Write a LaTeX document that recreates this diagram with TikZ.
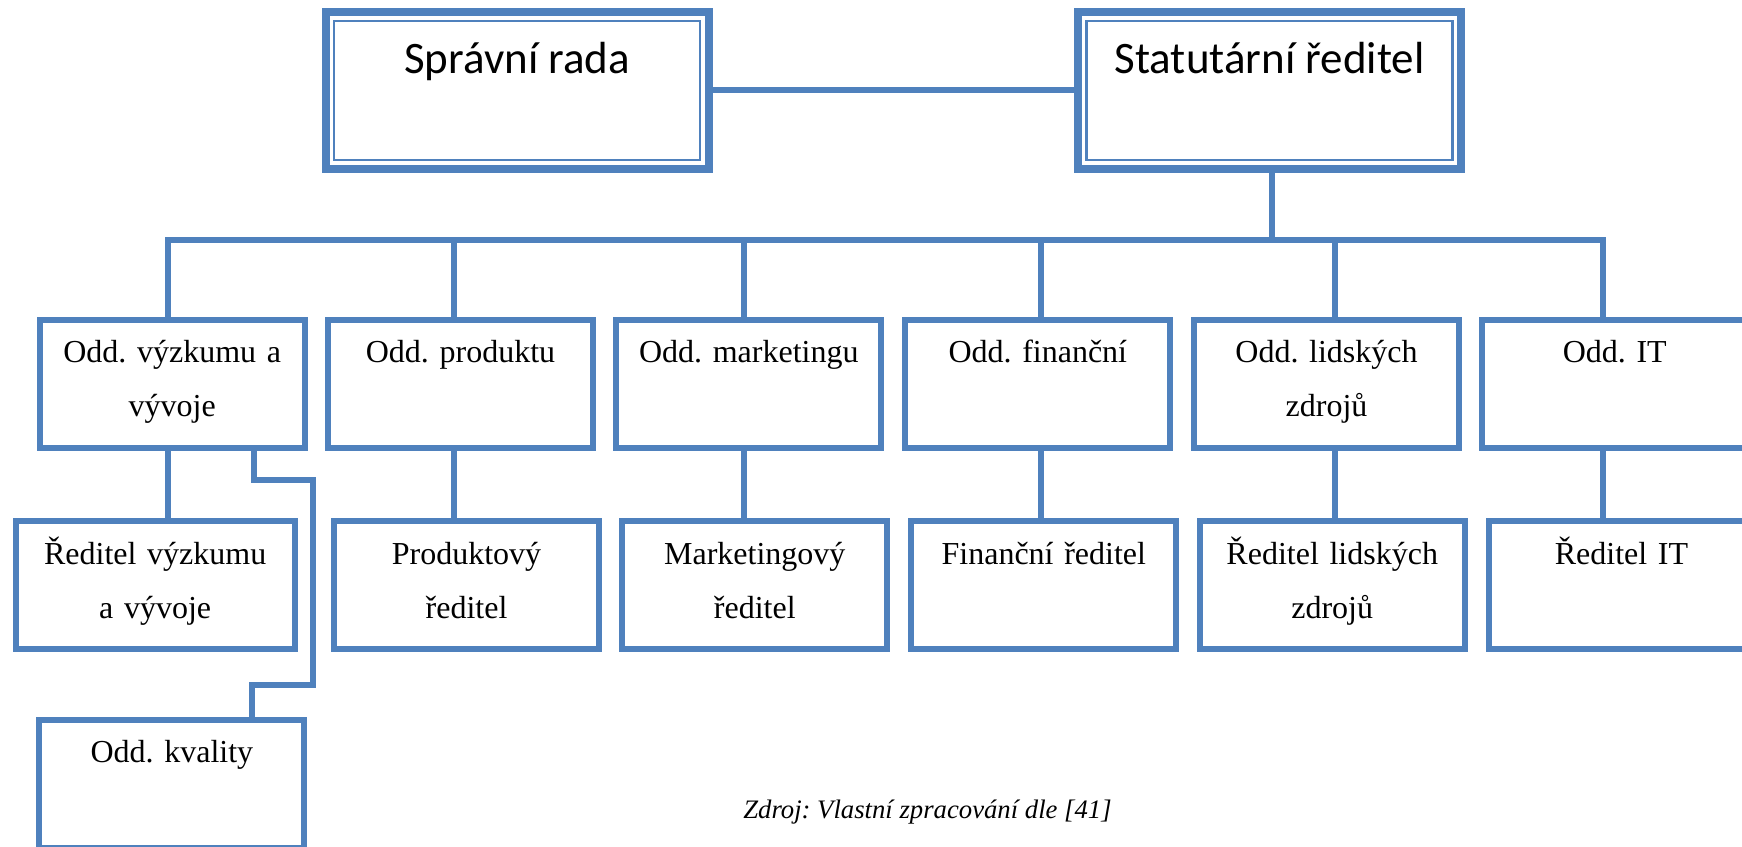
\documentclass[tikz,border=0pt]{standalone}
\usepackage{fontspec}
\setmainfont{Liberation Serif}
\newfontfamily\calibfont{Carlito}
\definecolor{orgblue}{HTML}{4F81BD}
\frenchspacing
% fixed-height strut so every first line sits at the same baseline
\newcommand{\firstlinestrut}{\rule{0pt}{34pt}}

\begin{document}
\begin{tikzpicture}[x=1pt,y=1pt,
  orgbox/.style={draw=orgblue, line width=6pt, rectangle, minimum width=265pt,
                 minimum height=128pt, inner sep=0pt, outer sep=0pt},
  topbox/.style={draw=orgblue, line width=8pt, rectangle, minimum width=383pt,
                 minimum height=156.4pt, inner sep=0pt, outer sep=0pt},
  innerrule/.style={draw=orgblue, line width=2.5pt},
  conn/.style={draw=orgblue, line width=6pt, line join=miter},
  lbl/.style={font=\fontsize{32}{54}\selectfont, align=center, text width=260pt,
              inner sep=0pt, anchor=north},
  toplbl/.style={font=\calibfont\fontsize{45}{54}\selectfont, inner sep=0pt, anchor=base},
]
\useasboundingbox (0,0) rectangle (1742,846);
\clip (0,0) rectangle (1742,846);

% --- board and executive director
\node[topbox] (sr) at (517.2,755.5) {};
\node[topbox] (st) at (1269.5,755.5) {};
\foreach \n in {sr,st}
  \draw[innerrule] ([shift={(8.5,-8.5)}]\n.north west) rectangle ([shift={(-8.5,8.5)}]\n.south east);
\node[toplbl] (srt) at ([yshift=-61.7pt]sr.north) {Správní rada};
\node[toplbl] (stt) at ([yshift=-61.7pt]st.north) {Statutární ředitel};
\draw[conn] (sr.east) -- (st.west);

% --- departments
\node[orgbox] (b1) at (172.2,462.3) {};
\node[orgbox] (b2) at (460.5,462.3) {};
\node[orgbox] (b3) at (748.8,462.3) {};
\node[orgbox] (b4) at (1037.8,462.3) {};
\node[orgbox] (b5) at (1326.5,462.3) {};
\node[orgbox] (b6) at (1614.8,462.3) {};

% --- department heads
\node[orgbox, minimum width=279pt] (r1) at (155.2,261) {};
\node[orgbox] (r2) at (466.5,261) {};
\node[orgbox] (r3) at (754.8,261) {};
\node[orgbox] (r4) at (1043.8,261) {};
\node[orgbox] (r5) at (1332.2,261) {};
\node[orgbox] (r6) at (1621.5,261) {};

% --- quality department
\node[orgbox] (q) at (171.9,62.3) {};

% --- texts
\node[lbl] (b1t) at ([yshift=-9pt]b1.north) {\firstlinestrut Odd. výzkumu a\\vývoje};
\node[lbl] (b2t) at ([yshift=-9pt]b2.north) {\firstlinestrut Odd. produktu};
\node[lbl] (b3t) at ([yshift=-9pt]b3.north) {\firstlinestrut Odd. marketingu};
\node[lbl] (b4t) at ([yshift=-9pt]b4.north) {\firstlinestrut Odd. finanční};
\node[lbl] (b5t) at ([yshift=-9pt]b5.north) {\firstlinestrut Odd. lidských\\zdrojů};
\node[lbl] (b6t) at ([yshift=-9pt]b6.north) {\firstlinestrut Odd. IT};
\node[lbl] (r1t) at ([yshift=-9pt]r1.north) {\firstlinestrut Ředitel výzkumu\\a vývoje};
\node[lbl] (r2t) at ([yshift=-9pt]r2.north) {\firstlinestrut Produktový\\ředitel};
\node[lbl] (r3t) at ([yshift=-9pt]r3.north) {\firstlinestrut Marketingový\\ředitel};
\node[lbl] (r4t) at ([yshift=-9pt]r4.north) {\firstlinestrut Finanční ředitel};
\node[lbl] (r5t) at ([yshift=-9pt]r5.north) {\firstlinestrut Ředitel lidských\\zdrojů};
\node[lbl] (r6t) at ([yshift=-9pt]r6.north) {\firstlinestrut Ředitel IT};
\node[lbl] (qt) at ([yshift=-9pt]q.north) {\firstlinestrut Odd. kvality};

% --- connector columns on the distribution bus
\coordinate (c1) at (168,605.5);
\coordinate (c2) at (454,605.5);
\coordinate (c3) at (744,605.5);
\coordinate (c4) at (1040.5,605.5);
\coordinate (c5) at (1334.5,605.5);
\coordinate (c6) at (1603,605.5);
\coordinate (sj) at (1272,605.5);

\draw[conn] (st.south -| sj) -- (sj);
\draw[conn] (b1.north -| c1) -- (c1) -- (c6) -- (b6.north -| c6);
\foreach \i in {2,3,4,5}
  \draw[conn] (c\i) -- (b\i.north -| c\i);
\foreach \i in {1,...,6}
  \draw[conn] (b\i.south -| c\i) -- (r\i.north -| c\i);

% --- route to the quality department
\coordinate (k1) at (254,365.5);
\coordinate (k2) at (313,365.5);
\coordinate (k3) at (313,161);
\coordinate (k4) at (252,161);
\draw[conn] (b1.south -| k1) -- (k1) -- (k2) -- (k3) -- (k4) -- (q.north -| k4);

% --- source note
\node[font=\itshape\fontsize{26.7}{32}\selectfont, anchor=base, inner sep=0pt] (src)
  at (927.5,28) {Zdroj: Vlastní zpracování dle [41]};
\end{tikzpicture}
\end{document}
